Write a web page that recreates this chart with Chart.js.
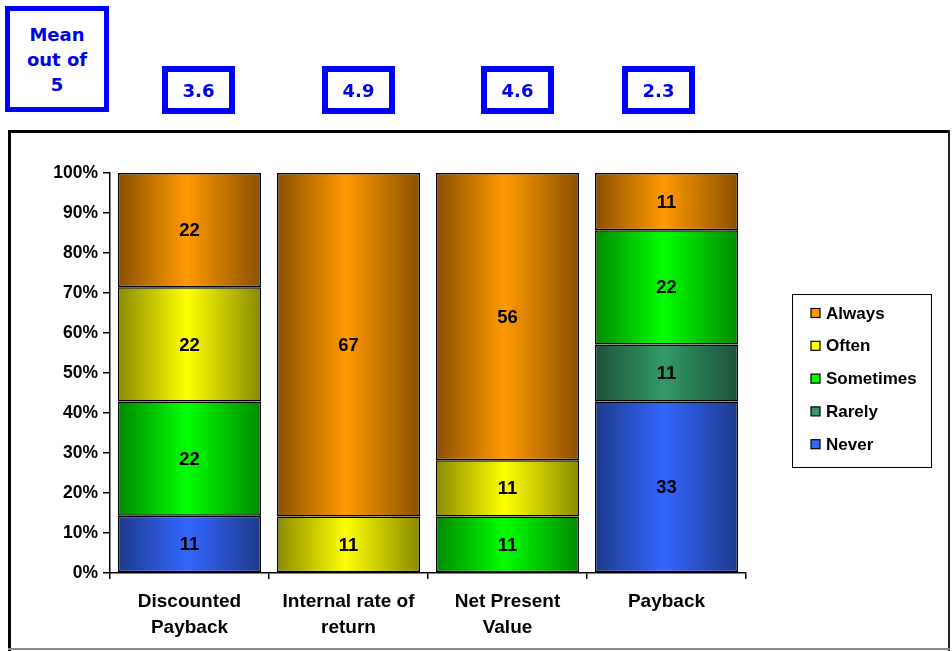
<!DOCTYPE html>
<html>
<head>
<meta charset="utf-8">
<script src="https://cdn.jsdelivr.net/npm/chart.js@4/dist/chart.umd.min.js"></script>
<style>
  html, body { margin: 0; padding: 0; background: #fff; }
  #wrap { position: relative; width: 952px; height: 651px; overflow: hidden; }
  #c { position: absolute; left: 0; top: 0; }
  .mean { position: absolute; box-sizing: border-box; border: 6px solid #0000ff; background: #fff;
          display: flex; align-items: center; justify-content: center; text-align: center;
          font-family: 'DejaVu Sans', Verdana, sans-serif; font-weight: bold; font-size: 18px;
          color: #0000ee; line-height: 25px; }
</style>
</head>
<body>
<div id="wrap">
  <canvas id="c" width="952" height="651"></canvas>
</div>
<script>
// ---- data ----
const categories = [['Discounted', 'Payback'], ['Internal rate of', 'return'], ['Net Present', 'Value'], ['Payback']];
const seriesNames = ['Never', 'Rarely', 'Sometimes', 'Often', 'Always'];
const never     = [11, 0, 0, 33];
const rarely    = [0, 0, 0, 11];
const sometimes = [22, 0, 11, 22];
const often     = [22, 11, 11, 0];
const always    = [22, 67, 56, 11];
const means     = [3.6, 4.9, 4.6, 2.3];
const meanTitle = ['Mean', 'out of', '5'];
const yTickValues = [0, 10, 20, 30, 40, 50, 60, 70, 80, 90, 100];

// ---- styles ----
const seriesColors = [
  { edge: '#1e3a8c', center: '#3366ff' },
  { edge: '#1d5238', center: '#339966' },
  { edge: '#008a00', center: '#00ff00' },
  { edge: '#8a8a00', center: '#ffff00' },
  { edge: '#8a5000', center: '#ff9900' }
];
const FONT = "'Liberation Sans', Arial, sans-serif";

const counts = [never, rarely, sometimes, often, always];
const totals = categories.map((_, i) => counts.reduce((s, arr) => s + arr[i], 0));

function gradientFor(si) {
  return function (ctx) {
    const chart = ctx.chart;
    const xs = chart.scales && chart.scales.x;
    if (!xs || !chart.chartArea || ctx.dataIndex === undefined) return seriesColors[si].center;
    const cx = xs.getPixelForValue(ctx.dataIndex);
    const half = (xs.width / categories.length) * 0.9 / 2;
    const g = chart.ctx.createLinearGradient(cx - half, 0, cx + half, 0);
    g.addColorStop(0, seriesColors[si].edge);
    g.addColorStop(0.48, seriesColors[si].center);
    g.addColorStop(1, seriesColors[si].edge);
    return g;
  };
}

const datasets = seriesNames.map((name, si) => ({
  label: name,
  data: counts[si].map((v, i) => v / totals[i] * 100),
  rawCounts: counts[si],
  backgroundColor: gradientFor(si),
  borderColor: '#000',
  borderWidth: 1.5,
  borderSkipped: false,
  categoryPercentage: 1.0,
  barPercentage: 0.9
}));

// frame plugin
const framePlugin = {
  id: 'frame',
  beforeDraw(chart) {
    const c = chart.ctx;
    c.save();
    c.fillStyle = '#fff';
    c.fillRect(0, 0, chart.width, chart.height);
    c.fillStyle = '#000';
    c.fillRect(8, 130, 942, 3);
    c.fillRect(8, 130, 3, 521);
    c.fillStyle = '#222';
    c.fillRect(948, 130, 2, 521);
    c.fillStyle = '#8a8a8a';
    c.fillRect(8, 648, 942, 2);
    c.restore();
  }
};

// data label plugin
const labelPlugin = {
  id: 'segLabels',
  afterDatasetsDraw(chart) {
    const c = chart.ctx;
    c.save();
    c.font = 'bold 18.5px ' + FONT;
    c.fillStyle = '#000';
    c.textAlign = 'center';
    c.textBaseline = 'middle';
    chart.data.datasets.forEach((ds, di) => {
      const meta = chart.getDatasetMeta(di);
      meta.data.forEach((el, i) => {
        const v = ds.rawCounts[i];
        if (!v) return;
        c.fillText(String(v), el.x, (el.y + el.base) / 2 + 1);
      });
    });
    c.restore();
  }
};

// custom legend plugin (reverse order, boxed)
const legendPlugin = {
  id: 'boxLegend',
  afterDraw(chart) {
    const c = chart.ctx;
    const bx = 792, by = 294, bw = 139, bh = 173;
    c.save();
    c.strokeStyle = '#000';
    c.lineWidth = 1;
    c.strokeRect(bx + 0.5, by + 0.5, bw, bh);
    c.font = 'bold 17px ' + FONT;
    c.textBaseline = 'middle';
    c.textAlign = 'left';
    const items = chart.data.datasets.map((d, i) => i).reverse();
    items.forEach((di, k) => {
      const y = 313 + k * 32.8;
      c.fillStyle = seriesColors[di].center;
      c.fillRect(811, y - 4.5, 9, 9);
      c.strokeStyle = '#000';
      c.lineWidth = 1.2;
      c.strokeRect(811, y - 4.5, 9, 9);
      c.fillStyle = '#000';
      c.fillText(chart.data.datasets[di].label, 826, y + 1);
    });
    c.restore();
  }
};

new Chart(document.getElementById('c'), {
  type: 'bar',
  data: { labels: categories, datasets },
  plugins: [framePlugin, labelPlugin, legendPlugin],
  options: {
    responsive: false,
    animation: false,
    devicePixelRatio: 1,
    layout: { padding: { top: 173, right: 206, left: 0, bottom: 0 } },
    plugins: { legend: { display: false }, tooltip: { enabled: false } },
    scales: {
      x: {
        stacked: true,
        afterFit(s) { s.height = 78; },
        grid: { drawOnChartArea: false, color: '#000', lineWidth: 1.5, tickLength: 6, offset: true },
        border: { color: '#000', width: 1.5 },
        ticks: { color: '#000', font: { family: FONT, size: 19, weight: 'bold', lineHeight: 1.35 },
                 padding: 10, maxRotation: 0, autoSkip: false }
      },
      y: {
        stacked: true,
        min: 0, max: 100,
        afterFit(s) { s.width = 110; },
        afterBuildTicks(s) { s.ticks = yTickValues.map(v => ({ value: v })); },
        grid: { drawOnChartArea: false, color: '#000', lineWidth: 1.5, tickLength: 7 },
        border: { color: '#000', width: 1.5 },
        ticks: { color: '#000', font: { family: FONT, size: 17.5, weight: 'bold' }, padding: 5,
                 callback: v => v + '%' }
      }
    }
  }
});

// mean boxes (HTML annotations)
const wrap = document.getElementById('wrap');
const titleBox = document.createElement('div');
titleBox.className = 'mean';
Object.assign(titleBox.style, { left: '5px', top: '6px', width: '104px', height: '106px', borderWidth: '5px' });
titleBox.innerHTML = meanTitle.join('<br>');
wrap.appendChild(titleBox);
const meanBoxLeft = [162, 322, 481, 622];
means.forEach((m, i) => {
  const d = document.createElement('div');
  d.className = 'mean';
  Object.assign(d.style, { left: meanBoxLeft[i] + 'px', top: '66px', width: '73px', height: '48px' });
  d.textContent = m.toFixed(1);
  wrap.appendChild(d);
});
</script>
</body>
</html>
